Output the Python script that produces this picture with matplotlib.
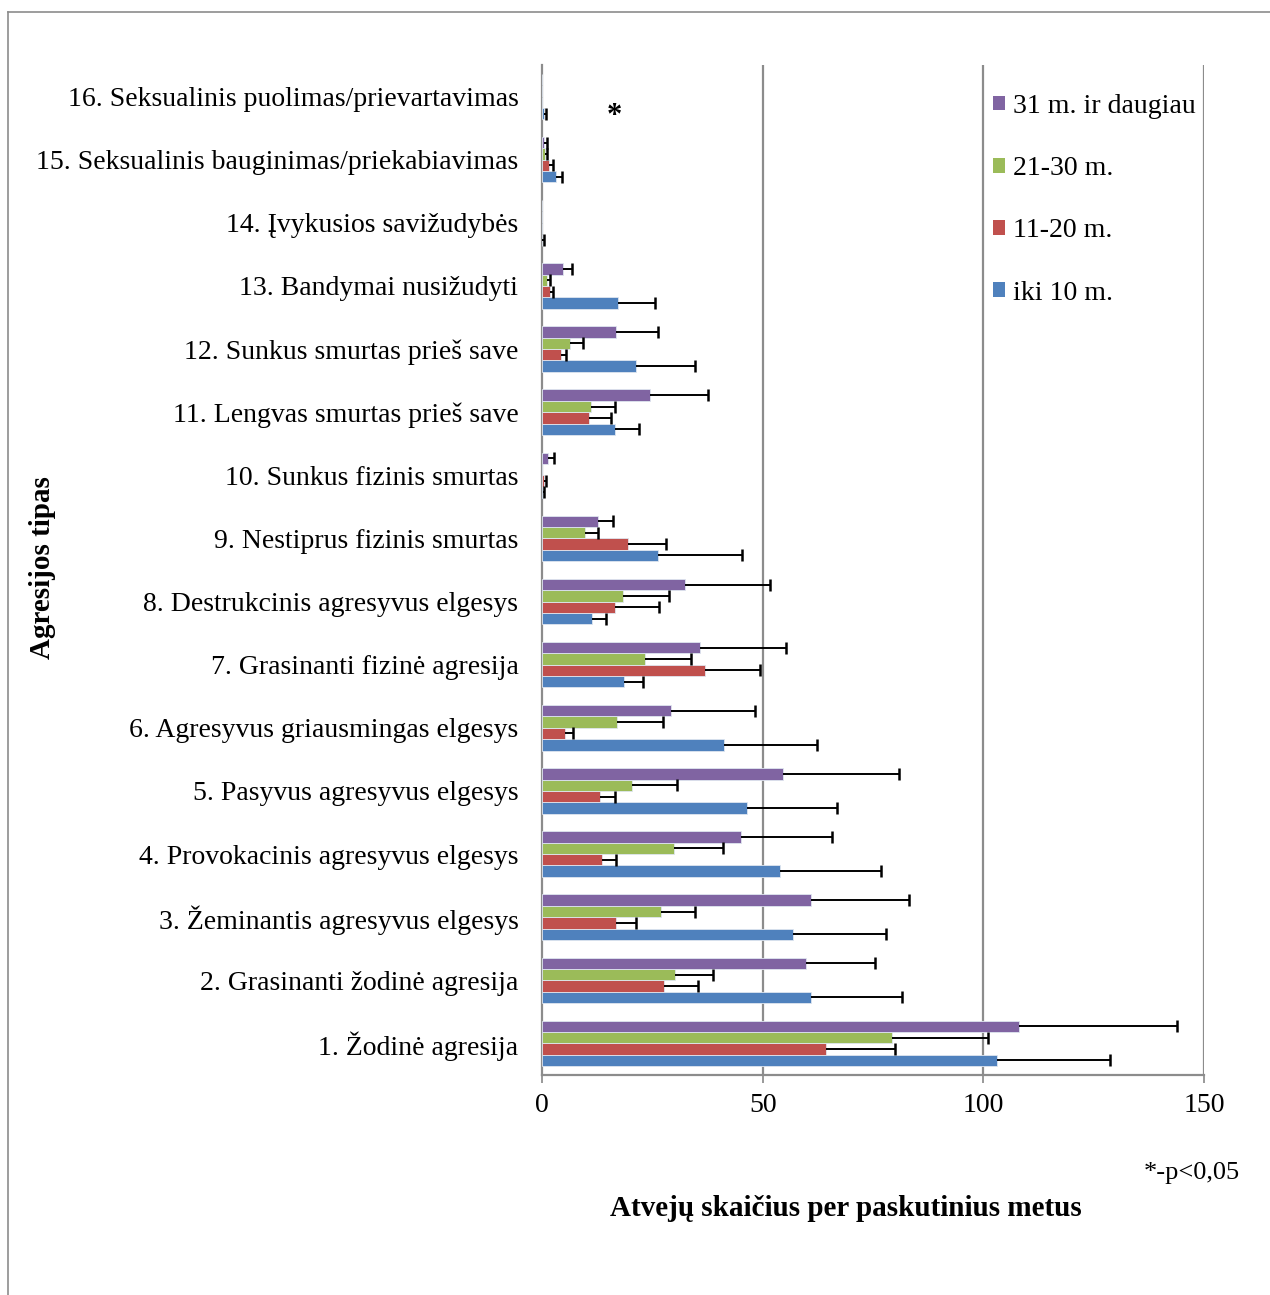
import matplotlib
matplotlib.use("Agg")
import matplotlib.pyplot as plt
import numpy as np
from matplotlib.lines import Line2D
from matplotlib.patches import Patch

categories = [
    "1. Žodinė agresija",
    "2. Grasinanti žodinė agresija",
    "3. Žeminantis agresyvus elgesys",
    "4. Provokacinis agresyvus elgesys",
    "5. Pasyvus agresyvus elgesys",
    "6. Agresyvus griausmingas elgesys",
    "7. Grasinanti fizinė agresija",
    "8. Destrukcinis agresyvus elgesys",
    "9. Nestiprus fizinis smurtas",
    "10. Sunkus fizinis smurtas",
    "11. Lengvas smurtas prieš save",
    "12. Sunkus smurtas prieš save",
    "13. Bandymai nusižudyti",
    "14. Įvykusios savižudybės",
    "15. Seksualinis bauginimas/priekabiavimas",
    "16. Seksualinis puolimas/prievartavimas",
]

series_names = ["iki 10 m.", "11-20 m.", "21-30 m.", "31 m. ir daugiau"]

iki10 = [103.2, 60.9, 56.9, 53.9, 46.4, 41.2, 18.5, 11.4, 26.3, 0.2, 16.5, 21.2, 17.2, 0.1, 3.2, 0.5]
iki10_err = [25.5, 20.7, 21.1, 23.0, 20.4, 21.2, 4.3, 3.1, 19.1, 0.3, 5.4, 13.4, 8.4, 0.35, 1.4, 0.3]

m11_20 = [64.3, 27.7, 16.8, 13.7, 13.2, 5.2, 36.9, 16.6, 19.4, 0.5, 10.6, 4.2, 1.8, 0, 1.6, 0]
m11_20_err = [15.7, 7.7, 4.4, 3.1, 3.3, 1.8, 12.5, 10.0, 8.7, 0.3, 5.0, 1.2, 0.6, 0, 1.0, 0]

m21_30 = [79.3, 30.1, 26.9, 29.8, 20.4, 17.0, 23.3, 18.3, 9.8, 0, 11.1, 6.4, 1.1, 0, 0.7, 0]
m21_30_err = [21.7, 8.7, 7.8, 11.2, 10.3, 10.5, 10.5, 10.4, 2.9, 0, 5.4, 2.8, 0.8, 0, 0.5, 0]

m31 = [108.0, 59.8, 60.9, 45.2, 54.6, 29.3, 35.7, 32.3, 12.7, 1.3, 24.4, 16.7, 4.7, 0, 0.5, 0]
m31_err = [35.9, 15.7, 22.2, 20.6, 26.4, 18.9, 19.5, 19.4, 3.4, 1.4, 13.2, 9.6, 2.1, 0, 0.6, 0]

xticks = [0, 50, 100, 150]

colors = ["#4F81BD", "#C0504D", "#9BBB59", "#8064A2"]
FONT = "Liberation Serif"
FS = 20

fig = plt.figure(figsize=(12.7, 12.95), dpi=100)
ax = fig.add_axes([542/1270, 1 - 1075/1295, (1204-542)/1270, (1075-65)/1295])

y = np.arange(len(categories))
h = 0.18
data = [(iki10, iki10_err), (m11_20, m11_20_err), (m21_30, m21_30_err), (m31, m31_err)]
for i, (vals, errs) in enumerate(data):
    pos = y + (i - 1.5) * h
    ax.barh(pos, vals, height=h, color=colors[i], edgecolor="#dfe6f0", linewidth=0.6, zorder=3)
    vals_a = np.array(vals, dtype=float)
    errs_a = np.array(errs, dtype=float)
    mask = errs_a > 0
    ax.hlines(pos[mask], vals_a[mask], vals_a[mask] + errs_a[mask], color="black", linewidth=1.4, zorder=4)
    ax.plot(vals_a[mask] + errs_a[mask], pos[mask], linestyle="none", marker="|", markersize=9,
            markeredgewidth=1.8, color="black", zorder=4)

ax.set_xlim(0, 150)
ax.set_ylim(-0.5, len(categories) - 0.5)
ax.set_xticks(xticks)
ax.set_xticklabels([str(t) for t in xticks], fontfamily=FONT, fontsize=FS)
ax.set_yticks(y)
ax.set_yticklabels(categories, fontfamily=FONT, fontsize=FS)
ax.tick_params(axis="y", length=0, pad=17)
ax.tick_params(axis="x", length=6, width=1.2, color="#888888", pad=7, direction="out")

for x in [50, 100, 150]:
    ax.axvline(x, color="#8c8c8c", linewidth=1.6, zorder=1)
for s in ["top", "right"]:
    ax.spines[s].set_visible(False)
for s in ["left", "bottom"]:
    ax.spines[s].set_color("#8c8c8c")
    ax.spines[s].set_linewidth(1.6)

ax.text(16.3, 14.69, "*", fontfamily=FONT, fontsize=22, fontweight="bold", ha="center", va="center")

handles = [Patch(facecolor=colors[i], edgecolor="none") for i in [3, 2, 1, 0]]
labels = [series_names[i] for i in [3, 2, 1, 0]]
leg = fig.legend(handles, labels, loc="upper left", bbox_to_anchor=(993/1270, 1 - 94/1295),
                 frameon=False, prop={"family": FONT, "size": FS}, handlelength=0.43, handleheight=0.43,
                 handletextpad=0.28, labelspacing=1.34, borderaxespad=0, borderpad=0)

fig.text(846/1270, 1 - 1208/1295, "Atvejų skaičius per paskutinius metus", fontfamily=FONT,
         fontsize=21, fontweight="bold", ha="center", va="center")
fig.text(43/1270, 1 - 568/1295, "Agresijos tipas", fontfamily=FONT, fontsize=21,
         fontweight="bold", ha="center", va="center", rotation=90)
fig.text(1240/1270, 1 - 1173/1295, "*-p<0,05", fontfamily=FONT, fontsize=19, ha="right", va="center")

fig.add_artist(Line2D([8/1270, 1.0], [1 - 12/1295, 1 - 12/1295], color="#8c8c8c", linewidth=1.2))
fig.add_artist(Line2D([8/1270, 8/1270], [0.0, 1 - 12/1295], color="#8c8c8c", linewidth=1.2))

fig.savefig("out.png", dpi=100)
